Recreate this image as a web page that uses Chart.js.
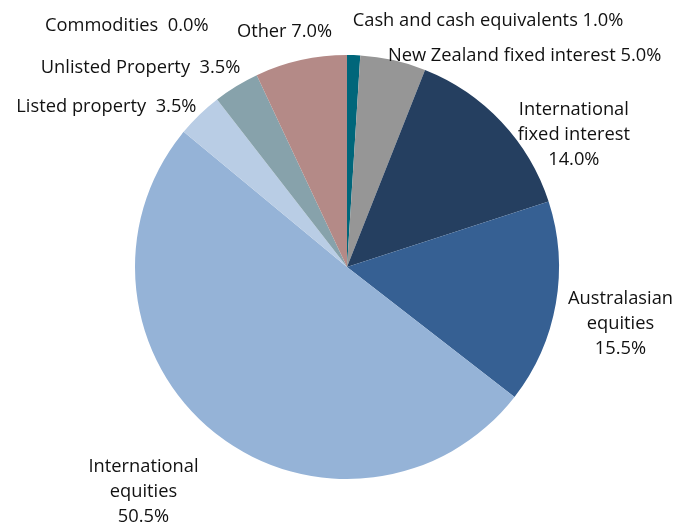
<!DOCTYPE html>
<html>
<head>
<meta charset="utf-8">
<script src="https://cdn.jsdelivr.net/npm/chart.js@4"></script>
<style>
  html, body { margin: 0; padding: 0; background: #fff; }
  #wrap { width: 700px; height: 525px; }
</style>
</head>
<body>
<div id="wrap"><canvas id="pie"></canvas></div>
<script>
// data
const labels = [
	'Cash and cash equivalents',
	'New Zealand fixed interest',
	'International fixed interest',
	'Australasian equities',
	'International equities',
	'Listed property',
	'Unlisted Property',
	'Commodities',
	'Other'
];
const values = [1.0, 5.0, 14.0, 15.5, 50.5, 3.5, 3.5, 0.0, 7.0];
const colors = ['#00667A', '#969696', '#253F60', '#366093', '#95B3D7', '#B9CDE5', '#87A2AB', '#4F81BD', '#B48A87'];

// label text lines and position (relative to pie centre, in units of radius)
const labelLines = [
	[l => l + ' ' + v(0)],
	[l => l + ' ' + v(1)],
	['International', 'fixed interest', 2],
	['Australasian', 'equities', 3],
	['International', 'equities', 4],
	[l => l + '  ' + v(5)],
	[l => l + '  ' + v(6)],
	[l => l + '  ' + v(7)],
	[l => l + ' ' + v(8)]
];
function v(i) { return values[i].toFixed(1) + '%'; }

const labelSpots = [
	{ x: 0.027, y: -1.16, align: 'left' },
	{ x: 0.193, y: -0.995, align: 'left' },
	{ x: 1.07, y: -0.625, align: 'center' },
	{ x: 1.29, y: 0.27, align: 'center' },
	{ x: -0.96, y: 1.06, align: 'center' },
	{ x: -0.71, y: -0.755, align: 'right' },
	{ x: -0.503, y: -0.94, align: 'right' },
	{ x: -0.653, y: -1.14, align: 'right' },
	{ x: -0.07, y: -1.11, align: 'right' }
];

const outsideLabels = {
	id: 'outsideLabels',
	afterDraw(chart) {
		const ctx = chart.ctx;
		const arc = chart.getDatasetMeta(0).data[0];
		const cx = arc.x, cy = arc.y, r = arc.outerRadius;
		ctx.save();
		ctx.fillStyle = '#111';
		ctx.font = '18.3px "Open Sans"';
		ctx.textBaseline = 'middle';
		labels.forEach((lab, i) => {
			const spot = labelSpots[i];
			const def = labelLines[i];
			let lines;
			if (typeof def[0] === 'function') {
				lines = [def[0](lab)];
			} else {
				lines = [def[0], def[1], v(def[2])];
			}
			ctx.textAlign = spot.align;
			const x = cx + spot.x * r;
			const y0 = cy + spot.y * r - (lines.length - 1) * 12.5;
			lines.forEach((t, j) => ctx.fillText(t, x, y0 + j * 25));
		});
		ctx.restore();
	}
};

const config_pie = {
	type: 'pie',
	data: {
		labels: labels,
		datasets: [{
			data: values,
			backgroundColor: colors,
			borderWidth: 0
		}]
	},
	options: {
		responsive: true,
		maintainAspectRatio: false,
		animation: false,
		layout: {
			padding: { left: 135, right: 141, top: 55, bottom: 46 }
		},
		plugins: {
			legend: { display: false },
			title: { display: false },
			tooltip: { enabled: false }
		}
	},
	plugins: [outsideLabels]
};

const pie = new Chart(document.getElementById('pie'), config_pie);
</script>
</body>
</html>
